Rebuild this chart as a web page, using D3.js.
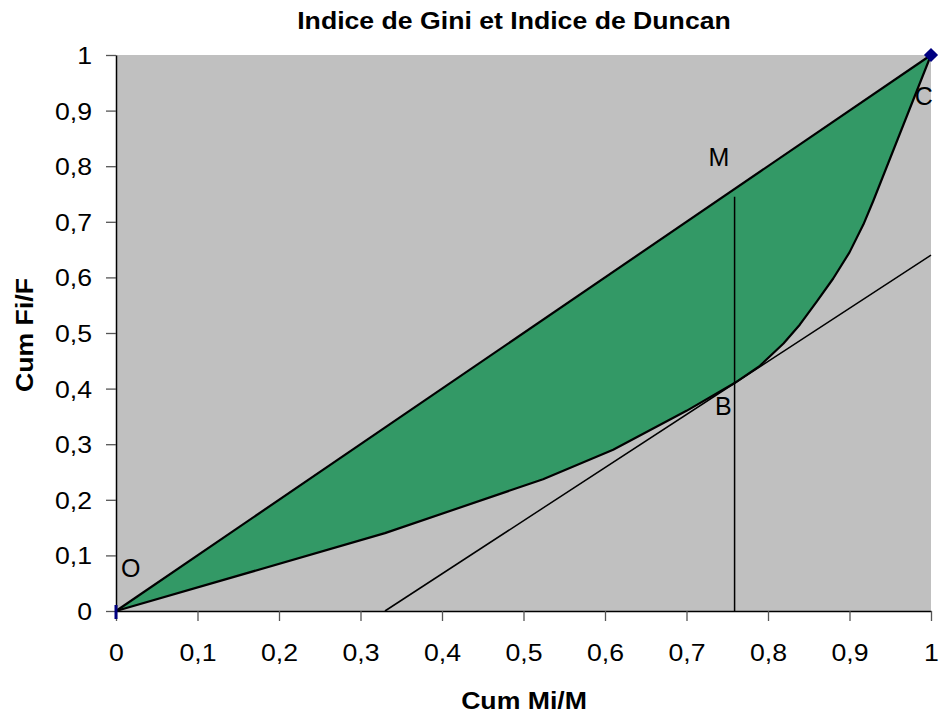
<!DOCTYPE html>
<html>
<head>
<meta charset="utf-8">
<script src="https://cdn.jsdelivr.net/npm/d3@7"></script>
<style>
  body { margin: 0; background: #fff; }
  text { font-family: Arial, "Liberation Sans", sans-serif; }
</style>
</head>
<body>
<div id="chart"></div>
<script>
// Lorenz curve (Cum Mi/M, Cum Fi/F)
const lorenzX = [0, 0.33, 0.524, 0.61, 0.70, 0.759, 0.79, 0.819, 0.839, 0.86, 0.88, 0.90, 0.917, 0.929, 1];
const lorenzY = [0, 0.14, 0.237, 0.29, 0.36, 0.41, 0.441, 0.481, 0.515, 0.557, 0.598, 0.645, 0.695, 0.737, 1];

// equality line
const diagX = [0, 1];
const diagY = [0, 1];

// tangent line touching the curve at B
const tangentX = [0.33, 1];
const tangentY = [0, 0.64];

// vertical line M-B
const vertX = [0.759, 0.759];
const vertY = [0, 0.745];

// point labels
const labelNames = ['O', 'M', 'C', 'B'];
const labelX = [0.006, 0.727, 0.98, 0.735];
const labelY = [0.061, 0.80, 0.91, 0.353];

const xTicks = [0, 0.1, 0.2, 0.3, 0.4, 0.5, 0.6, 0.7, 0.8, 0.9, 1];
const yTicks = [0, 0.1, 0.2, 0.3, 0.4, 0.5, 0.6, 0.7, 0.8, 0.9, 1];

let width = 940, height = 715;
let margin = { top: 55, bottom: 104, left: 116, right: 9 };

// text in the original is a bit wider than Arial
const stretch = 1.11;

let svg = d3.select('#chart')
  .append('svg')
  .attr('width', width)
  .attr('height', height);

const x = d3.scaleLinear()
  .domain([0, 1])
  .range([margin.left, width - margin.right]);

const y = d3.scaleLinear()
  .domain([0, 1])
  .range([height - margin.bottom, margin.top]);

const fmt = d => String(d).replace('.', ',');

// plot background
svg.append('rect')
  .attr('x', x(0))
  .attr('y', y(1))
  .attr('width', x(1) - x(0))
  .attr('height', y(0) - y(1))
  .attr('fill', '#c0c0c0');

// green area between diagonal and Lorenz curve
const lorenz = lorenzX.map((v, i) => [v, lorenzY[i]]);
const areaPts = lorenz.concat(diagX.map((v, i) => [v, diagY[i]]).reverse());
const line = d3.line().x(d => x(d[0])).y(d => y(d[1]));

svg.append('path')
  .datum(areaPts)
  .attr('d', line)
  .attr('fill', '#339966');

// axes
const yAxis = svg.append('g')
  .attr('transform', `translate(${x(0)},0)`)
  .call(d3.axisLeft(y).tickValues(yTicks).tickFormat(fmt).tickSize(10).tickSizeOuter(0));
const xAxis = svg.append('g')
  .attr('transform', `translate(0,${y(0)})`)
  .call(d3.axisBottom(x).tickValues(xTicks).tickFormat(fmt).tickSize(10).tickSizeOuter(0));

[xAxis, yAxis].forEach(a => {
  a.select('.domain').attr('stroke', '#000').attr('stroke-width', 1.5);
  a.selectAll('.tick line').attr('stroke', '#555').attr('stroke-width', 1.3);
  a.selectAll('.tick text')
    .attr('font-size', 24)
    .attr('font-family', 'Arial, "Liberation Sans", sans-serif')
    .attr('fill', '#000')
    .attr('transform', `scale(${stretch},1)`);
});
yAxis.selectAll('.tick text').attr('x', -24 / stretch).attr('dy', '0.35em');
xAxis.selectAll('.tick text').attr('y', 50).attr('dy', 0);

// tangent and vertical line
svg.append('path')
  .datum(tangentX.map((v, i) => [v, tangentY[i]]))
  .attr('d', line)
  .attr('fill', 'none')
  .attr('stroke', '#000')
  .attr('stroke-width', 1.5);

svg.append('path')
  .datum(vertX.map((v, i) => [v, vertY[i]]))
  .attr('d', line)
  .attr('fill', 'none')
  .attr('stroke', '#000')
  .attr('stroke-width', 1.5);

// diagonal and Lorenz curve
svg.append('path')
  .datum(diagX.map((v, i) => [v, diagY[i]]))
  .attr('d', line)
  .attr('fill', 'none')
  .attr('stroke', '#000')
  .attr('stroke-width', 2.2);

svg.append('path')
  .datum(lorenz)
  .attr('d', line)
  .attr('fill', 'none')
  .attr('stroke', '#000')
  .attr('stroke-width', 2.2)
  .attr('stroke-linejoin', 'round');

// markers at the ends
svg.append('rect')
  .attr('x', x(0) - 1.5)
  .attr('y', y(0) - 6)
  .attr('width', 3)
  .attr('height', 14)
  .attr('fill', '#000080');

svg.append('path')
  .attr('d', d3.symbol().type(d3.symbolDiamond2).size(128))
  .attr('transform', `translate(${x(1)},${y(1)})`)
  .attr('fill', '#000080');

// point labels
labelNames.forEach((n, i) => {
  svg.append('text')
    .attr('x', x(labelX[i]))
    .attr('y', y(labelY[i]))
    .attr('font-size', 25)
    .text(n);
});

// title and axis titles
function stretchedText(px, py, rot, str) {
  svg.append('g')
    .attr('transform', `translate(${px},${py}) rotate(${rot}) scale(${stretch},1)`)
    .append('text')
    .attr('text-anchor', 'middle')
    .attr('font-size', 24)
    .attr('font-weight', 'bold')
    .text(str);
}

stretchedText(514, 29, 0, 'Indice de Gini et Indice de Duncan');
stretchedText(524, 709, 0, 'Cum Mi/M');
stretchedText(33, 335, -90, 'Cum Fi/F');
</script>
</body>
</html>
